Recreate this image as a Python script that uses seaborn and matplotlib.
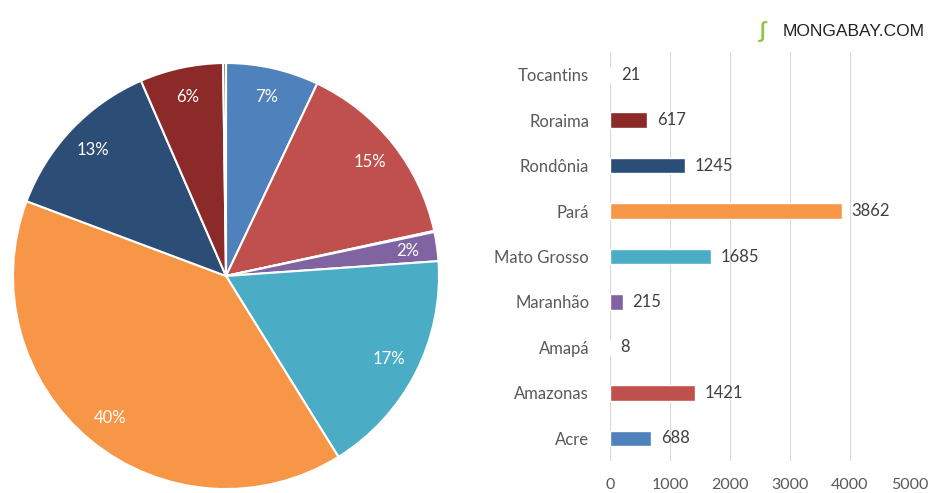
import pandas as pd
import matplotlib.pyplot as plt
import seaborn as sns

# Deforestation by state
states = ["Acre", "Amazonas", "Amapá", "Maranhão", "Mato Grosso",
          "Pará", "Rondônia", "Roraima", "Tocantins"]
values = [688, 1421, 8, 215, 1685, 3862, 1245, 617, 21]
colors = ["#4F81BD", "#C0504D", "#9BBB59", "#8064A2", "#4BACC6",
          "#F79646", "#2C4D75", "#8B2A28", "#5F7530"]
xticks = [0, 1000, 2000, 3000, 4000, 5000]

sns.set_style("white")
plt.rcParams["font.family"] = ["Lato", "DejaVu Sans"]

fig = plt.figure(figsize=(9.37, 4.93), dpi=100)

# Pie chart
ax_pie = fig.add_axes([13 / 937, 4 / 493, 426 / 937, 426 / 493])


def pct_label(p):
    return f"{p:.0f}%" if p >= 1 else ""


wedges, texts, autotexts = ax_pie.pie(
    values, colors=colors, startangle=90, counterclock=False,
    autopct=pct_label, pctdistance=0.86,
    wedgeprops=dict(edgecolor="white", linewidth=1.5),
    textprops=dict(color="white", fontsize=12))
ax_pie.set_xlim(-1, 1)
ax_pie.set_ylim(-1, 1)
ax_pie.set_aspect("equal")

# Bar chart
df = pd.DataFrame({"state": states, "value": values})
df = df.iloc[::-1].reset_index(drop=True)
bar_colors = colors[::-1]

ax_bar = fig.add_axes([610 / 937, 32 / 493, 300 / 937, 409 / 493])
sns.barplot(data=df, y="state", x="value", hue="state", palette=bar_colors,
            orient="h", width=0.34, saturation=1, legend=False, ax=ax_bar)
for cont in ax_bar.containers:
    ax_bar.bar_label(cont, padding=7, fontsize=12, color="#404040")

ax_bar.set_xlim(0, 5000)
ax_bar.set_xticks(xticks)
ax_bar.set_ylim(len(states) - 0.5, -0.5)
ax_bar.set_xlabel("")
ax_bar.set_ylabel("")
ax_bar.grid(axis="x", color="#d9d9d9", linewidth=0.8)
ax_bar.set_axisbelow(True)
for spine in ax_bar.spines.values():
    spine.set_visible(False)
ax_bar.tick_params(axis="y", length=0, pad=15, labelsize=12, labelcolor="#595959")
ax_bar.tick_params(axis="x", length=0, pad=12, labelsize=11.5, labelcolor="#595959")

# Source logo text
fig.text(783 / 937, 1 - 32 / 493, "MONGABAY.COM", fontsize=12.5, color="#222222",
         family=["Liberation Sans", "DejaVu Sans"], va="center", ha="left")
fig.text(762 / 937, 1 - 32 / 493, "\u0283", fontsize=16, color="#8dc63f",
         fontweight="bold", va="center", ha="center")

plt.savefig("out.png", dpi=100)
plt.close()
